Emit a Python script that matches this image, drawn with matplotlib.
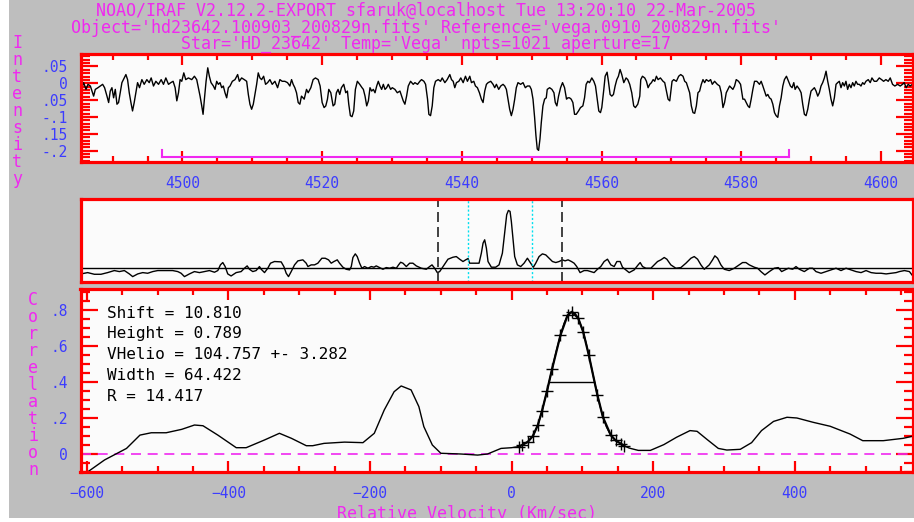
import numpy as np
import matplotlib.pyplot as plt
from matplotlib.ticker import MultipleLocator, FixedLocator, FixedFormatter
from matplotlib.patches import Rectangle

plt.rcParams['font.family'] = ['DejaVu Sans Mono']

# ---- top panel: object spectrum (continuum subtracted), three pieces
wave_a = [4485.62, 4485.85, 4486.19, 4486.47, 4486.81, 4487.04, 4487.28, 4487.52, 4487.90, 4488.24,
          4488.57, 4488.85, 4489.19, 4489.43, 4489.66, 4489.90, 4490.14, 4490.38, 4490.62, 4490.85,
          4491.09, 4491.33, 4491.66, 4491.90, 4492.14, 4492.38, 4492.62, 4492.85, 4493.09, 4493.33,
          4493.57, 4493.85, 4494.19, 4494.52, 4494.90, 4495.24, 4495.52, 4495.85, 4496.19, 4496.57,
          4496.95, 4497.28, 4497.62, 4498.00, 4498.33, 4498.66, 4498.95, 4499.19, 4499.43, 4499.66,
          4499.90, 4500.19, 4500.47, 4500.85, 4501.33, 4501.71, 4502.04, 4502.28, 4502.52, 4502.76,
          4502.95, 4503.14, 4503.38, 4503.62, 4503.85, 4504.09, 4504.43, 4504.66, 4504.90, 4505.14,
          4505.38, 4505.62, 4505.85, 4506.09, 4506.33, 4506.57, 4506.81, 4507.14, 4507.52, 4507.90,
          4508.14, 4508.47, 4508.85, 4509.19, 4509.43, 4509.66, 4509.90, 4510.14, 4510.38, 4510.62,
          4510.85, 4511.09, 4511.33, 4511.62, 4511.90, 4512.19, 4512.52, 4512.85, 4513.24, 4513.62,
          4513.95, 4514.28, 4514.66, 4515.04, 4515.38, 4515.62, 4515.85, 4516.09, 4516.33, 4516.57,
          4516.81, 4517.04, 4517.43, 4517.76, 4518.00, 4518.38, 4518.71, 4519.04, 4519.43, 4519.71,
          4520.00, 4520.28, 4520.52, 4520.76, 4520.95, 4521.24, 4521.57, 4521.81, 4522.04, 4522.28,
          4522.52, 4522.76, 4523.09, 4523.38, 4523.62, 4523.81, 4524.04, 4524.28, 4524.52, 4524.76,
          4525.04, 4525.38, 4525.71]
flux_a = [-.013, .002, -.018, -.003, -.008, -.023, -.038, -.018, -.013, -.008,
          -.003, -.013, -.038, -.057, -.023, -.013, -.043, -.018, -.062, -.057,
          -.028, .002, .016, .026, .011, -.028, -.057, -.082, -.057, -.028,
          .002, -.013, .011, -.003, .011, .002, .016, -.008, .006, -.003,
          .011, -.003, .016, -.003, .002, .006, -.013, -.052, -.028, .011,
          .006, .031, .011, .016, .011, .021, .011, -.013, -.038, -.067,
          -.092, -.047, .006, .046, .021, .002, -.008, -.018, .006, -.003,
          .002, -.013, -.008, -.028, -.043, -.013, -.008, .006, .011, .026,
          .006, .016, .011, .006, -.033, -.062, -.077, -.062, -.033, -.003,
          .031, .016, .011, .021, -.003, .002, .011, -.003, .006, -.013,
          .011, .006, .006, .002, -.008, .011, -.003, -.013, -.028, -.057,
          -.062, -.038, -.047, -.018, -.028, -.013, .011, .016, .011, -.008,
          -.057, -.072, -.067, -.047, -.018, -.028, -.067, -.062, -.028, -.018,
          -.033, -.013, -.003, -.028, -.023, -.062, -.096, -.099, -.082, -.018,
          .006, -.003, -.013]

wave_b = [4525.90, 4526.14, 4526.38, 4526.62, 4526.85, 4527.09, 4527.33, 4527.57, 4527.81, 4528.04,
          4528.28, 4528.52, 4528.76, 4529.00, 4529.23, 4529.47, 4529.81, 4530.04, 4530.42, 4530.76,
          4531.14, 4531.38, 4531.61, 4531.85, 4532.09, 4532.33, 4532.66, 4533.04, 4533.28, 4533.66,
          4533.99, 4534.23, 4534.57, 4534.81, 4535.09, 4535.28, 4535.52, 4535.76, 4535.99, 4536.23,
          4536.61, 4536.95, 4537.19, 4537.57, 4537.90, 4538.28, 4538.52, 4538.76, 4538.99, 4539.23,
          4539.57, 4539.85, 4540.19, 4540.52, 4540.80, 4541.14, 4541.38, 4541.71, 4541.95, 4542.23,
          4542.52, 4542.80, 4543.04, 4543.28, 4543.52, 4543.76, 4544.14, 4544.47, 4544.71, 4544.95,
          4545.28, 4545.57, 4545.90, 4546.14, 4546.38, 4546.61, 4546.85, 4547.09, 4547.33, 4547.57,
          4547.80, 4548.04, 4548.42, 4548.76, 4549.09, 4549.38, 4549.71, 4549.95, 4550.19, 4550.42,
          4550.61, 4550.80, 4550.99, 4551.19, 4551.38, 4551.61, 4551.85, 4552.09, 4552.23, 4552.57,
          4552.90, 4553.19, 4553.38, 4553.61, 4553.85, 4554.14, 4554.42, 4554.71, 4554.99, 4555.19,
          4555.42, 4555.66, 4555.90, 4556.14, 4556.38, 4556.71, 4556.99, 4557.33, 4557.57, 4557.80,
          4558.04, 4558.28, 4558.61, 4558.90, 4559.14, 4559.38, 4559.61, 4559.85, 4560.04, 4560.33,
          4560.52, 4560.80, 4560.99, 4561.23, 4561.47, 4561.71, 4561.95, 4562.19, 4562.42, 4562.66,
          4562.90, 4563.19, 4563.52, 4563.76, 4564.04, 4564.33, 4564.61, 4564.85, 4565.19]
flux_b = [-.018, -.038, -.067, -.052, -.013, -.023, -.018, -.028, -.008, .006,
          -.008, -.018, -.003, -.018, -.013, -.003, -.018, -.013, -.018, -.028,
          -.023, -.038, -.052, -.062, -.038, -.008, .006, -.003, .002, -.003,
          .006, .011, .006, -.003, -.047, -.092, -.096, -.067, -.013, .006,
          .011, .006, .016, .002, .011, .026, .011, .006, -.013, .002,
          .006, .016, .002, .021, .006, .021, .002, .006, -.008, -.013,
          -.028, -.047, -.057, -.023, -.003, .002, .006, -.003, -.013, -.003,
          -.018, -.008, -.003, -.008, -.018, -.047, -.077, -.096, -.077, -.047,
          -.013, .002, -.003, .002, -.013, -.008, -.008, -.018, -.047, -.101,
          -.155, -.195, -.199, -.165, -.116, -.067, -.047, -.043, -.018, -.013,
          -.018, -.028, -.057, -.067, -.038, -.013, .002, -.013, -.047, -.043,
          -.043, -.047, -.057, -.092, -.092, -.082, -.072, -.067, -.043, -.003,
          .006, .002, .016, .006, -.008, -.047, -.082, -.087, -.072, -.018,
          .021, .033, .006, -.033, -.038, -.033, -.008, .011, .021, .041,
          .026, .002, .016, .011, -.003, -.028, -.067, -.072, -.062]

wave_c = [4565.48, 4565.62, 4565.86, 4566.19, 4566.43, 4566.67, 4566.91, 4567.15, 4567.39, 4567.62,
          4567.86, 4568.10, 4568.43, 4568.81, 4569.05, 4569.29, 4569.53, 4569.77, 4569.91, 4570.10,
          4570.34, 4570.72, 4571.05, 4571.34, 4571.67, 4571.91, 4572.15, 4572.39, 4572.62, 4572.86,
          4573.10, 4573.34, 4573.58, 4573.81, 4574.05, 4574.29, 4574.53, 4574.77, 4575.00, 4575.34,
          4575.62, 4575.86, 4576.19, 4576.58, 4576.91, 4577.15, 4577.39, 4577.62, 4577.86, 4578.10,
          4578.34, 4578.58, 4578.81, 4579.05, 4579.29, 4579.62, 4579.91, 4580.24, 4580.48, 4580.72,
          4580.96, 4581.19, 4581.43, 4581.67, 4581.91, 4582.24, 4582.62, 4582.86, 4583.10, 4583.34,
          4583.58, 4583.81, 4584.05, 4584.29, 4584.53, 4584.77, 4585.00, 4585.24, 4585.48, 4585.72,
          4585.96, 4586.19, 4586.48, 4586.77, 4587.05, 4587.29, 4587.53, 4587.72, 4588.00, 4588.34,
          4588.58, 4588.81, 4589.05, 4589.29, 4589.53, 4589.77, 4590.00, 4590.24, 4590.48, 4590.72,
          4590.96, 4591.19, 4591.43, 4591.67, 4591.91, 4592.15, 4592.39, 4592.62, 4592.86, 4593.10,
          4593.34, 4593.58, 4593.81, 4594.05, 4594.29, 4594.53, 4594.77, 4595.00, 4595.24, 4595.48,
          4595.72, 4595.96, 4596.19, 4596.43, 4596.67, 4596.91, 4597.15, 4597.39, 4597.62, 4597.86,
          4598.19, 4598.48, 4598.72, 4599.05, 4599.39, 4599.77, 4600.10, 4600.39, 4600.72, 4601.05,
          4601.34, 4601.67, 4602.00, 4602.39, 4602.77, 4603.10, 4603.34, 4603.62, 4603.91, 4604.19,
          4604.53]
flux_c = [-.038, .011, .021, .016, .006, -.013, -.003, .002, .011, .006,
          .021, .011, .016, .006, .002, -.023, -.047, -.052, -.028, .006,
          .011, .006, .021, .026, .021, .006, .002, -.013, -.028, -.067,
          -.087, -.089, -.067, -.028, -.023, -.003, .011, .002, .011, .006,
          .011, -.003, .006, -.003, -.008, -.028, -.072, -.057, -.028, -.018,
          -.008, -.013, -.018, -.008, .011, .006, -.003, -.047, -.047, -.057,
          -.067, -.072, -.047, -.018, .006, .006, -.003, .006, -.008, -.023,
          -.038, -.033, -.043, -.047, -.062, -.087, -.096, -.101, -.067, -.043,
          -.008, .011, .021, .006, -.008, -.013, .002, -.018, -.008, -.018,
          -.028, -.062, -.092, -.096, -.077, -.047, -.023, -.018, -.013, -.023,
          -.038, -.028, -.008, .002, .016, .036, .006, -.018, -.047, -.067,
          -.043, -.003, .002, .006, -.013, .002, -.008, .006, -.018, -.003,
          -.013, .002, -.008, .006, -.003, -.003, -.008, .002, -.003, .006,
          .011, .002, .016, .006, .006, .016, .011, .006, .011, .006,
          .016, -.003, -.008, -.003, -.008, -.003, .002, -.013, -.003, -.008,
          -.003]

# sample region bar
samp_lo, samp_hi, samp_y = 4497.0, 4586.9, -0.2185

# ---- middle panel: full correlation function vs lag (pixels)
lag_a = [-515.4, -507.2, -499.0, -490.9, -482.7, -474.5, -468.3, -462.2, -456.1, -452.0,
         -445.8, -439.7, -433.6, -427.4, -421.3, -415.2, -409.0, -402.9, -396.7, -392.6,
         -388.5, -382.4, -376.3, -370.1, -364.0, -357.9, -351.7, -347.6, -344.4, -341.5,
         -338.6, -335.4, -331.3, -325.1, -319.0, -314.9, -311.6, -308.8, -304.7, -300.6,
         -296.5, -294.4, -290.3, -286.3, -283.0, -278.1, -269.9, -266.6, -263.7, -260.9,
         -257.6, -253.5, -249.4, -243.3, -239.2, -237.1, -233.1, -229.0, -224.9, -220.0,
         -215.9, -211.8, -208.5, -205.2, -201.1, -198.3, -194.2, -190.1, -186.0, -183.9,
         -181.9, -179.0, -176.6, -173.7, -170.9, -167.6, -163.5, -159.4, -156.1, -153.3,
         -149.2, -145.1, -141.0, -136.9, -132.8, -128.7, -125.9, -123.4, -120.5, -116.4,
         -112.3, -108.3, -104.2, -98.0, -91.9, -87.8, -84.9, -81.7, -78.4, -75.5,
         -71.4, -65.3, -59.2, -55.1, -51.0, -46.9, -43.6, -40.7, -38.7, -32.5,
         -27.2, -24.4, -22.3, -20.3, -18.2, -16.2, -12.1, -8.0]
cor_a = [-0.087, -0.069, -0.092, -0.092, -0.069, -0.041, -0.055, -0.041, -0.087, -0.124,
         -0.087, -0.069, -0.078, -0.055, -0.041, -0.041, -0.041, -0.041, -0.055, -0.078,
         -0.124, -0.087, -0.055, -0.069, -0.055, -0.041, -0.064, -0.041, 0.037, 0.069,
         0.014, -0.087, -0.115, -0.069, -0.055, -0.009, 0.023, -0.023, -0.055, -0.041,
         0.014, -0.023, -0.069, -0.009, 0.060, 0.083, 0.078, 0.014, -0.078, -0.124,
         -0.055, 0.037, 0.092, 0.106, 0.060, 0.014, 0.037, 0.037, 0.060, 0.128,
         0.128, 0.106, 0.060, 0.083, 0.106, 0.060, 0.005, -0.023, -0.032, 0.014,
         0.138, 0.188, 0.151, 0.060, -0.009, 0.014, -0.009, 0.014, 0.005, 0.023,
         0.000, -0.023, 0.000, -0.009, 0.005, -0.009, 0.037, 0.073, 0.060, 0.014,
         0.060, 0.060, 0.023, -0.009, -0.023, 0.014, 0.037, -0.009, -0.069, -0.055,
         0.014, 0.115, 0.142, 0.151, 0.115, 0.083, 0.106, 0.124, 0.060, 0.060,
         0.060, 0.197, 0.335, 0.381, 0.266, 0.083, 0.005, 0.005]
lag_b = [-6.8, -2.7, 1.4, 4.7, 6.7, 8.8, 10.8, 12.4, 14.5, 16.5,
         19.8, 23.9, 28.0, 32.1, 36.2, 39.4, 42.3, 46.4, 50.5, 54.6,
         58.7, 62.8, 66.9, 71.0, 75.0, 78.3, 82.0, 86.1, 89.4, 92.6,
         96.7, 101.6, 105.7, 109.8, 113.9, 118.0, 122.1, 126.2, 130.3, 134.4,
         138.5, 141.8, 145.8, 148.7, 152.8, 156.9, 163.0, 167.9, 170.4, 173.3,
         177.4, 183.5, 187.6, 191.7, 195.8, 199.9, 203.1, 208.0, 214.2, 220.3,
         226.5, 232.6, 236.7, 240.8, 244.9, 249.0, 255.1, 259.2, 262.0, 265.3,
         269.4, 273.5, 279.6, 285.8, 291.9, 296.0, 300.1, 304.2, 310.3, 314.4,
         318.5, 323.4, 328.8, 334.9, 339.8, 343.9, 348.0, 352.1, 357.4, 361.5,
         365.6, 371.7, 377.9, 382.0, 386.0, 392.2, 398.3, 404.5, 410.6, 416.7,
         422.9, 429.0, 435.1, 441.3, 447.4, 453.6, 459.7, 465.8, 472.0, 478.1,
         484.3, 488.3, 494.5, 500.6, 504.7]
cor_b = [0.005, 0.037, 0.197, 0.518, 0.725, 0.784, 0.771, 0.633, 0.381, 0.151,
         0.037, 0.014, 0.060, 0.128, 0.060, 0.005, 0.060, 0.151, 0.188, 0.174,
         0.128, 0.083, 0.069, 0.083, 0.106, 0.092, 0.106, 0.083, 0.060, 0.014,
         -0.069, -0.041, -0.041, -0.055, -0.069, -0.023, 0.014, 0.083, 0.115, 0.037,
         0.014, 0.083, 0.083, 0.005, -0.032, -0.069, -0.032, 0.037, 0.069, 0.014,
         -0.009, -0.009, 0.037, 0.083, 0.106, 0.138, 0.115, 0.037, -0.009, 0.000,
         0.060, 0.128, 0.151, 0.115, 0.037, -0.023, 0.037, 0.106, 0.161, 0.128,
         0.037, -0.023, -0.041, -0.009, 0.037, 0.069, 0.069, 0.037, 0.005, -0.009,
         -0.055, -0.101, -0.055, -0.009, 0.000, -0.055, -0.032, -0.009, -0.023, 0.014,
         -0.023, -0.055, -0.009, -0.009, -0.055, -0.078, -0.055, -0.032, -0.009, -0.041,
         -0.009, -0.032, -0.055, -0.069, -0.041, -0.069, -0.078, -0.078, -0.087, -0.078,
         -0.069, -0.055, -0.041, -0.055, -0.115]
win_lo, win_hi = -77.2, 74.3      # zoom window (dashed)
fitw_lo, fitw_hi = -40.4, 37.4    # fitting window (dotted)

# ---- bottom panel: correlation vs relative velocity
vel = [-599, -575, -544, -525, -509, -488, -466, -448, -436, -415,
       -389, -375, -349, -328, -311, -290, -281, -265, -236, -210,
       -194, -180, -166, -156, -142, -131, -124, -112, -100, -72,
       -48, -34, -15, 0, 10, 15, 23, 30, 37, 43,
       50, 57, 63, 69, 74, 79, 85, 90, 94, 101,
       105, 109, 115, 121, 125, 129, 134, 140, 147, 154,
       159, 166, 179, 196, 215, 233, 252, 262, 276, 292,
       304, 323, 339, 353, 370, 389, 403, 426, 450, 478,
       496, 525, 553, 568]
ccf = [-0.100, -0.033, 0.031, 0.105, 0.118, 0.118, 0.137, 0.161, 0.157, 0.105,
       0.035, 0.035, 0.078, 0.115, 0.087, 0.046, 0.046, 0.059, 0.066, 0.063,
       0.115, 0.244, 0.346, 0.378, 0.356, 0.263, 0.152, 0.050, 0.004, 0.000,
       -0.006, 0.000, 0.031, 0.035, 0.041, 0.050, 0.068, 0.100, 0.160, 0.240,
       0.350, 0.470, 0.570, 0.660, 0.725, 0.770, 0.790, 0.780, 0.755, 0.680,
       0.620, 0.550, 0.440, 0.330, 0.265, 0.205, 0.150, 0.105, 0.075, 0.058,
       0.045, 0.033, 0.020, 0.020, 0.052, 0.093, 0.130, 0.126, 0.081, 0.031,
       0.022, 0.026, 0.063, 0.130, 0.181, 0.204, 0.200, 0.176, 0.154, 0.111,
       0.074, 0.074, 0.087, 0.100]
fit_vel = [10, 15, 23, 30, 37, 43, 50, 57, 69, 79, 85, 94, 101, 109, 121, 129, 140, 147, 154, 159]
fit_ccf = [0.041, 0.050, 0.068, 0.100, 0.160, 0.240, 0.350, 0.470, 0.660, 0.770,
           0.790, 0.755, 0.680, 0.550, 0.330, 0.205, 0.105, 0.075, 0.058, 0.045]
fwhm_lo, fwhm_hi, half_h = 53.5, 117.0, 0.40

info = ["Shift = 10.810", "Height = 0.789", "VHelio = 104.757 +- 3.282",
        "Width = 64.422", "R = 14.417"]
titles = ["NOAO/IRAF V2.12.2-EXPORT sfaruk@localhost Tue 13:20:10 22-Mar-2005",
          "Object='hd23642.100903_200829n.fits' Reference='vega.0910_200829n.fits'",
          "Star='HD_23642' Temp='Vega' npts=1021 aperture=17"]

top_yt = [0.05, 0, -0.05, -0.1, -0.15, -0.2]
top_yl = ['.05', '0', '.05', '-.1', '.15', '-.2']
bot_yt = [0.8, 0.6, 0.4, 0.2, 0]
bot_yl = ['.8', '.6', '.4', '.2', '0']

MAG = '#f028f0'
BLUE = '#3c3cff'
RED = '#ff0000'
W, H = 914, 522


def box(x0, y0, x1, y1):
    return [x0 / W, 1 - y1 / H, (x1 - x0) / W, (y1 - y0) / H]


def style(ax):
    ax.set_facecolor('#fbfbfb')
    for s in ax.spines.values():
        s.set_color(RED)
        s.set_linewidth(2.3)
    ax.tick_params(which='both', direction='in', top=True, right=True,
                   color=RED, labelcolor=BLUE, labelsize=10.5, width=1.6)
    ax.tick_params(axis='x', which='major', length=8, pad=10)
    ax.tick_params(axis='x', which='minor', length=4.5)
    ax.tick_params(axis='y', which='major', length=12.5, pad=9)
    ax.tick_params(axis='y', which='minor', length=6.5)


fig = plt.figure(figsize=(9.14, 5.22), dpi=100)
fig.patch.set_facecolor('white')
bg = Rectangle((9 / W, 4 / H), 1, 1, transform=fig.transFigure,
               facecolor='#bebebe', edgecolor='none', zorder=-5)
fig.add_artist(bg)

# top
ax1 = fig.add_axes(box(80.5, 54, 913, 161.7))
style(ax1)
ax1.plot(wave_a + wave_b + wave_c, flux_a + flux_b + flux_c, color='black', lw=1)
ax1.plot([samp_lo, samp_hi], [samp_y, samp_y], color=MAG, lw=1.5)
ax1.plot([samp_lo, samp_lo], [samp_y, samp_y + 0.02], color=MAG, lw=1.5)
ax1.plot([samp_hi, samp_hi], [samp_y, samp_y + 0.02], color=MAG, lw=1.5)
ax1.set_xlim(4485.4, 4604.6)
ax1.set_ylim(-0.2326, 0.087)
ax1.xaxis.set_major_locator(MultipleLocator(20))
ax1.xaxis.set_minor_locator(MultipleLocator(5))
ax1.yaxis.set_major_locator(FixedLocator(top_yt))
ax1.yaxis.set_major_formatter(FixedFormatter(top_yl))
ax1.yaxis.set_minor_locator(MultipleLocator(0.01))

# middle
ax2 = fig.add_axes(box(80.5, 199, 913, 282))
style(ax2)
ax2.set_xticks([])
ax2.set_yticks([])
ax2.axhline(0, color='black', lw=1)
ax2.plot(lag_a + lag_b, cor_a + cor_b, color='black', lw=1)
for v in (win_lo, win_hi):
    ax2.axvline(v, color='#222222', lw=1.2, ls=(0, (6, 3)))
for v in (fitw_lo, fitw_hi):
    ax2.axvline(v, color='#00e0f0', lw=1, ls=(0, (1.5, 1.5)))
ax2.set_xlim(-516, 505)
ax2.set_ylim(-0.198, 0.941)

# bottom
ax3 = fig.add_axes(box(80.5, 289, 913, 472.3))
style(ax3)
ax3.axhline(0, color=MAG, lw=1.2, ls=(0, (6, 4)))
ax3.plot(vel, ccf, color='black', lw=1)
ax3.plot(fit_vel, fit_ccf, color='black', lw=1.6, marker='+', ms=8, mew=1)
ax3.plot([fwhm_lo, fwhm_hi], [half_h, half_h], color='black', lw=1)
ax3.set_xlim(-609, 567)
ax3.set_ylim(-0.1017, 0.9167)
ax3.xaxis.set_major_locator(MultipleLocator(200))
ax3.xaxis.set_minor_locator(MultipleLocator(50))
ax3.yaxis.set_major_locator(FixedLocator(bot_yt))
ax3.yaxis.set_major_formatter(FixedFormatter(bot_yl))
ax3.yaxis.set_minor_locator(MultipleLocator(0.05))

for i, line in enumerate(info):
    fig.text(107 / W, 1 - (313 + 20.8 * i) / H, line, ha='left', va='center',
             fontsize=11.5, color='black')

# header block, three centred lines
fig.text(426 / W, 1 - 27.6 / H, '\n'.join(titles), ha='center', va='center',
         fontsize=12, color=MAG, linespacing=0.867)

# stacked axis titles
fig.text(17 / W, 1 - 111 / H, '\n'.join('Intensity'), ha='center', va='center',
         fontsize=12, color=MAG, linespacing=0.93)
fig.text(33 / W, 1 - 385 / H, '\n'.join('Correlation'), ha='center', va='center',
         fontsize=12, color=MAG, linespacing=0.925)

xl = fig.text(467 / W, 1 - 519 / H, 'Relative Velocity (Km/sec)', ha='center',
              va='baseline', fontsize=12, color=MAG)
xl.set_clip_path(bg)

fig.savefig('out.png', dpi=100, facecolor=fig.get_facecolor())
